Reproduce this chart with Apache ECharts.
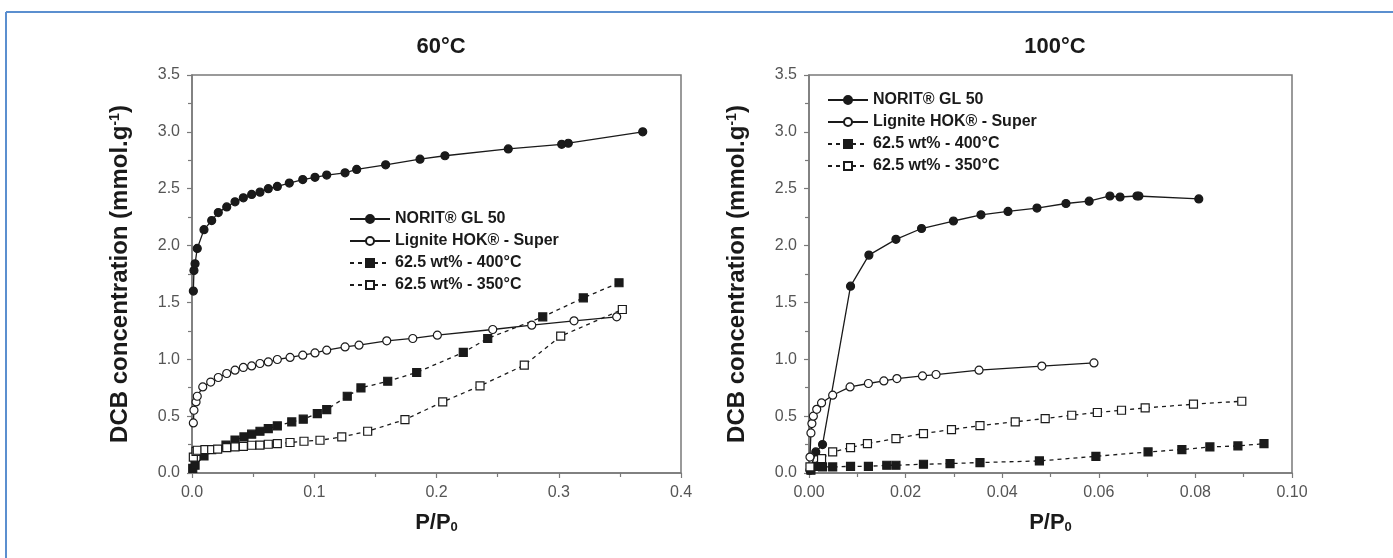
<!DOCTYPE html>
<html>
<head>
<meta charset="utf-8">
<script src="https://cdn.jsdelivr.net/npm/echarts@6/dist/echarts.min.js"></script>
<style>
html,body{margin:0;padding:0;background:#fff;}
#chart{width:1393px;height:558px;}
</style>
</head>
<body>
<div id="chart"></div>
<script>
// ---------- DATA ----------
const titles = ['60°C', '100°C'];
const seriesNames = ['NORIT® GL 50', 'Lignite HOK® - Super', '62.5 wt% - 400°C', '62.5 wt% - 350°C'];

// 60 °C
const x60Norit = [0.0011,0.0016,0.0025,0.0043,0.0098,0.0161,0.0215,0.0284,0.0352,0.042,0.0488,0.0556,0.0624,0.0698,0.0796,0.0906,0.1006,0.1102,0.1252,0.1347,0.1584,0.1865,0.2069,0.2587,0.3024,0.3078,0.3687];
const y60Norit = [1.60,1.78,1.84,1.975,2.14,2.22,2.29,2.34,2.385,2.42,2.45,2.47,2.50,2.52,2.55,2.58,2.60,2.62,2.64,2.67,2.71,2.76,2.79,2.85,2.89,2.90,3.00];

const x60Lig = [0.0011,0.0016,0.0033,0.0043,0.0088,0.0153,0.0215,0.0284,0.0352,0.042,0.0488,0.0556,0.0624,0.0698,0.0802,0.0906,0.1006,0.1102,0.1252,0.1366,0.1593,0.1806,0.2007,0.246,0.2779,0.3125,0.3474];
const y60Lig = [0.44,0.552,0.625,0.675,0.757,0.80,0.84,0.875,0.904,0.928,0.942,0.963,0.977,0.998,1.016,1.036,1.056,1.08,1.109,1.124,1.162,1.183,1.212,1.262,1.30,1.338,1.373];

const x60W400 = [0.0006,0.0025,0.0098,0.0278,0.0352,0.0425,0.0488,0.0556,0.0624,0.0698,0.0816,0.091,0.1025,0.1102,0.127,0.1382,0.1601,0.1838,0.2219,0.2419,0.2869,0.3201,0.3493];
const y60W400 = [0.04,0.068,0.15,0.245,0.29,0.317,0.341,0.367,0.391,0.414,0.449,0.473,0.523,0.558,0.675,0.748,0.807,0.884,1.06,1.183,1.373,1.54,1.673];

const x60W350 = [0.0011,0.0033,0.0043,0.0106,0.0161,0.021,0.0284,0.0352,0.042,0.0488,0.0556,0.0624,0.0698,0.0802,0.0916,0.1047,0.1225,0.1437,0.1742,0.2051,0.2356,0.2718,0.3016,0.352];
const y60W350 = [0.14,0.19,0.20,0.205,0.205,0.21,0.224,0.23,0.235,0.244,0.246,0.253,0.259,0.268,0.279,0.288,0.317,0.367,0.47,0.625,0.766,0.948,1.203,1.438];

// 100 °C
const x100Norit = [0.0002,0.0014,0.0028,0.0086,0.0124,0.018,0.0233,0.0299,0.0356,0.0412,0.0472,0.0532,0.058,0.0623,0.0644,0.0679,0.0683,0.0807];
const y100Norit = [0.024,0.185,0.25,1.643,1.916,2.055,2.15,2.216,2.27,2.30,2.33,2.37,2.39,2.436,2.427,2.436,2.436,2.41];

const x100Lig = [0.0002,0.0004,0.0006,0.0009,0.0016,0.0026,0.0049,0.0085,0.0123,0.0155,0.0182,0.0235,0.0263,0.0352,0.0482,0.059];
const y100Lig = [0.14,0.352,0.435,0.50,0.56,0.616,0.684,0.757,0.787,0.81,0.83,0.854,0.866,0.904,0.94,0.968];

const x100W400 = [0.0004,0.0016,0.0028,0.0049,0.0086,0.0123,0.0161,0.018,0.0237,0.0292,0.0354,0.0477,0.0594,0.0702,0.0772,0.083,0.0888,0.0942];
const y100W400 = [0.024,0.059,0.053,0.053,0.059,0.059,0.068,0.068,0.077,0.083,0.092,0.106,0.147,0.185,0.206,0.229,0.238,0.258];

const x100W350 = [0.0002,0.0026,0.0049,0.0086,0.0121,0.018,0.0237,0.0295,0.0354,0.0427,0.0489,0.0544,0.0597,0.0647,0.0696,0.0796,0.0896];
const y100W350 = [0.053,0.127,0.185,0.224,0.259,0.303,0.347,0.382,0.417,0.45,0.479,0.508,0.532,0.552,0.572,0.605,0.631];

// ---------- BUILD ----------
function zip(xs, ys){ return xs.map((x,i)=>[x, ys[i]]); }
const FONT = '"Liberation Sans", Arial, Helvetica, sans-serif';
const INK = '#1a1a1a';
const AX = '#7a7a7a';

const styles = [
  {symbol:'circle', fill:INK, dash:'solid'},
  {symbol:'circle', fill:'#fff', dash:'solid'},
  {symbol:'rect', fill:INK, dash:[4,4]},
  {symbol:'rect', fill:'#fff', dash:[4,4]}
];

function mkSeries(name, idx, data, gi){
  const s = styles[idx];
  return {
    name: name, type:'line', xAxisIndex:gi, yAxisIndex:gi,
    data: data, symbol: s.symbol, symbolSize: 8,
    showAllSymbol: true,
    lineStyle: {color: INK, width: 1.3, type: s.dash},
    itemStyle: {color: s.fill, borderColor: INK, borderWidth: 1.2},
    emphasis: {disabled: true},
    animation: false
  };
}

const sets = [
  [zip(x60Norit,y60Norit), zip(x60Lig,y60Lig), zip(x60W400,y60W400), zip(x60W350,y60W350)],
  [zip(x100Norit,y100Norit), zip(x100Lig,y100Lig), zip(x100W400,y100W400), zip(x100W350,y100W350)]
];

const series = [];
sets.forEach((set, gi) => set.forEach((d, i) => series.push(mkSeries(seriesNames[i], i, d, gi))));

const yName = '{b|DCB concentration (mmol.g}{s|-1}{b|)}';
const xName = '{b|P/P}{u|0}';
const yRich = {
  b: {fontFamily: FONT, fontWeight: 'bold', fontSize: 24, color: INK},
  s: {fontFamily: FONT, fontWeight: 'bold', fontSize: 14, color: INK, verticalAlign: 'top', padding:[0,0,10,0]}
};
const xRich = {
  b: {fontFamily: FONT, fontWeight: 'bold', fontSize: 22, color: INK},
  u: {fontFamily: FONT, fontWeight: 'bold', fontSize: 13, color: INK, verticalAlign: 'bottom', padding:[10,0,0,0]}
};

function xAxis(gi, max, interval, dec){
  return {
    type:'value', gridIndex: gi, min: 0, max: max, interval: interval,
    name: xName, nameLocation:'middle', nameGap: 38,
    nameTextStyle: {rich: xRich},
    axisLine: {show:true, onZero:false, lineStyle:{color:AX, width:1.5}},
    axisTick: {show:true, inside:false, length:5, lineStyle:{color:AX, width:1.2}},
    minorTick: {show:true, splitNumber:2, length:4, lineStyle:{color:AX, width:1.2}},
    splitLine: {show:false},
    axisLabel: {fontFamily: FONT, fontSize: 16, color:'#555', margin: 12, formatter: v => v.toFixed(dec)}
  };
}
function yAxis(gi){
  return {
    type:'value', gridIndex: gi, min: 0, max: 3.5, interval: 0.5,
    name: yName, nameLocation:'middle', nameGap: 60,
    nameTextStyle: {rich: yRich},
    axisLine: {show:true, onZero:false, lineStyle:{color:AX, width:1.5}},
    axisTick: {show:true, inside:false, length:5, lineStyle:{color:AX, width:1.2}},
    minorTick: {show:true, splitNumber:2, length:4, lineStyle:{color:AX, width:1.2}},
    splitLine: {show:false},
    axisLabel: {fontFamily: FONT, fontSize: 16, color:'#555', margin: 12, formatter: v => v.toFixed(1)}
  };
}

const legendCommon = {
  orient:'vertical', itemWidth: 40, itemHeight: 10, itemGap: 6,
  textStyle: {fontFamily: FONT, fontWeight:'bold', fontSize: 16, color: INK},
  selectedMode: false,
  data: seriesNames
};

const option = {
  backgroundColor: '#fff',
  animation: false,
  title: [
    {text: titles[0], left: 436, top: 31, textAlign:'center', textStyle:{fontFamily: FONT, fontWeight:'bold', fontSize: 22, color: INK}},
    {text: titles[1], left: 1050, top: 31, textAlign:'center', textStyle:{fontFamily: FONT, fontWeight:'bold', fontSize: 22, color: INK}}
  ],
  grid: [
    {left: 192, top: 75, width: 489, height: 398, show:true, borderColor: AX, borderWidth: 1.5, backgroundColor:'transparent'},
    {left: 809, top: 75, width: 483, height: 398, show:true, borderColor: AX, borderWidth: 1.5, backgroundColor:'transparent'}
  ],
  xAxis: [xAxis(0, 0.4, 0.1, 1), xAxis(1, 0.1, 0.02, 2)],
  yAxis: [yAxis(0), yAxis(1)],
  legend: [
    Object.assign({left: 344, top: 206}, legendCommon),
    Object.assign({left: 822, top: 87}, legendCommon)
  ],
  graphic: [
    {type:'line', shape:{x1:6, y1:12, x2:1393, y2:12}, style:{stroke:'#5b8fcf', lineWidth:2}, silent:true},
    {type:'line', shape:{x1:6, y1:12, x2:6, y2:558}, style:{stroke:'#5b8fcf', lineWidth:2}, silent:true}
  ],
  series: series
};

const chart = echarts.init(document.getElementById('chart'), null, {renderer:'canvas'});
chart.setOption(option);
</script>
</body>
</html>
